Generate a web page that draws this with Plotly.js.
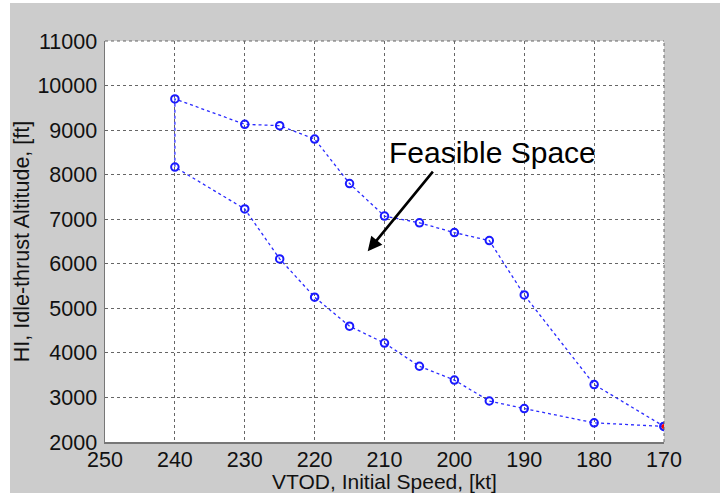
<!DOCTYPE html>
<html>
<head>
<meta charset="utf-8">
<script src="https://cdn.plot.ly/plotly-3.0.1.min.js"></script>
<style>
  html, body { margin: 0; padding: 0; background: #ffffff; width: 720px; height: 493px; overflow: hidden; }
  #chart { position: absolute; left: 10px; top: 3px; width: 710px; height: 490px; }
</style>
</head>
<body>
<div id="chart"></div>
<script>
// Initial speed (kt)
const speeds = [240, 230, 225, 220, 215, 210, 205, 200, 195, 190, 180, 170];
// Upper boundary altitude (ft)
const upperAlt = [9700, 9130, 9100, 8800, 7800, 7070, 6920, 6700, 6520, 5300, 3290, 2350];
// Lower boundary altitude (ft)
const lowerAlt = [8170, 7230, 6110, 5250, 4600, 4220, 3700, 3390, 2920, 2750, 2430, 2350];
// Highlighted end point
const endSpeed = [170];
const endAlt = [2350];

const xTicks = [250, 240, 230, 220, 210, 200, 190, 180, 170];
const yTicks = [2000, 3000, 4000, 5000, 6000, 7000, 8000, 9000, 10000, 11000];

// Closed boundary: lower curve from 170 back to 240, then up to 240 and along upper curve to 170
const pathX = speeds.slice().reverse().concat(speeds);
const pathY = lowerAlt.slice().reverse().concat(upperAlt);

const font = "Liberation Sans, Arial, sans-serif";

const traces = [
  {
    x: pathX, y: pathY, type: 'scatter', mode: 'lines+markers',
    line: { color: '#2a2aff', width: 1.3, dash: 'dot' },
    marker: { symbol: 'circle-open', size: 7.5, color: '#1a1aff', line: { width: 2, color: '#1a1aff' } },
    hoverinfo: 'skip', showlegend: false
  },
  {
    x: endSpeed, y: endAlt, type: 'scatter', mode: 'markers',
    marker: { symbol: 'circle', size: 5, color: '#ff0000' },
    hoverinfo: 'skip', showlegend: false
  }
];

const gridStyle = { gridcolor: '#666666', griddash: 'dot', gridwidth: 1 };

const layout = {
  width: 710, height: 490,
  paper_bgcolor: '#cccccc', plot_bgcolor: '#ffffff',
  margin: { l: 94.5, r: 56, t: 38, b: 51 },
  font: { family: font, color: '#111111', size: 21 },
  xaxis: Object.assign({
    range: [250, 170], autorange: false,
    tickvals: xTicks, ticktext: xTicks.map(String),
    showline: true, linecolor: '#777777', linewidth: 1.5, mirror: false,
    ticks: '', zeroline: false, automargin: false, ticklabelstandoff: -2,
    tickfont: { family: font, size: 21.5, color: '#111111' },
    title: { text: 'VTOD, Initial Speed, [kt]', font: { family: font, size: 21, color: '#111111' }, standoff: 4 }
  }, gridStyle),
  yaxis: Object.assign({
    range: [2000, 11000], autorange: false,
    tickvals: yTicks, ticktext: yTicks.map(String),
    showline: true, linecolor: '#777777', linewidth: 1.5, mirror: false,
    ticks: '', zeroline: false, automargin: false, ticklabelstandoff: 2,
    tickfont: { family: font, size: 21.5, color: '#111111' },
    title: { text: 'HI, Idle-thrust Altitude, [ft]', font: { family: font, size: 21.5, color: '#111111' }, standoff: 4 }
  }, gridStyle),
  shapes: [
    { type: 'line', xref: 'paper', yref: 'paper', x0: 0, x1: 1, y0: 1, y1: 1,
      line: { color: '#666666', width: 1, dash: 'dot' } },
    { type: 'line', xref: 'paper', yref: 'paper', x0: 1, x1: 1, y0: 0, y1: 1,
      line: { color: '#666666', width: 1, dash: 'dot' } }
  ],
  annotations: [
    {
      x: 194.5, y: 8506, xref: 'x', yref: 'y',
      text: 'Feasible Space', showarrow: false,
      font: { family: font, size: 30, color: '#000000' }
    },
    {
      x: 212.4, y: 6281, xref: 'x', yref: 'y',
      ax: 202.9, ay: 8101, axref: 'x', ayref: 'y',
      text: '', showarrow: true, arrowhead: 2, arrowsize: 1.1, arrowwidth: 2.6, arrowcolor: '#000000'
    }
  ]
};

Plotly.newPlot('chart', traces, layout, { staticPlot: true, displayModeBar: false });
</script>
</body>
</html>
